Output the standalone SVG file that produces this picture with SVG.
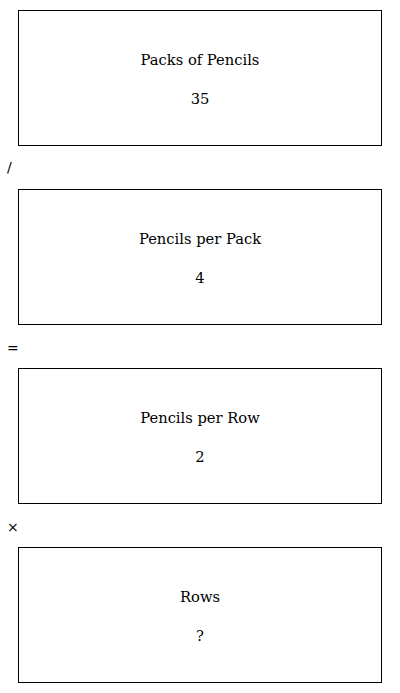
<svg xmlns="http://www.w3.org/2000/svg" width="400" height="693" viewBox="0 0 400 693">
<style>
.box{fill:#fff;stroke:#000;stroke-width:1}
.t{font-family:"DejaVu Serif","Liberation Serif",serif;font-size:14.7px;fill:#000;text-anchor:middle}
.op{font-family:"DejaVu Sans","Liberation Sans",sans-serif;font-size:14px;fill:#000}
</style>
<rect width="400" height="693" fill="#fff"/>
<g id="node1"><rect class="box" x="18.5" y="10.5" width="363" height="135"/><text class="t" x="200" y="65">Packs of Pencils</text><text class="t" x="200" y="104">35</text></g>
<g id="op1"><text class="op" x="7" y="172">/</text></g>
<g id="node2"><rect class="box" x="18.5" y="189.5" width="363" height="135"/><text class="t" x="200" y="244">Pencils per Pack</text><text class="t" x="200" y="283">4</text></g>
<g id="op2"><text class="op" x="7" y="353">=</text></g>
<g id="node3"><rect class="box" x="18.5" y="368.5" width="363" height="135"/><text class="t" x="200" y="423">Pencils per Row</text><text class="t" x="200" y="462">2</text></g>
<g id="op3"><text class="op" x="7" y="532">×</text></g>
<g id="node4"><rect class="box" x="18.5" y="547.5" width="363" height="135"/><text class="t" x="200" y="602">Rows</text><text class="t" x="200" y="641">?</text></g>
<g id="connectors"></g>
</svg>
